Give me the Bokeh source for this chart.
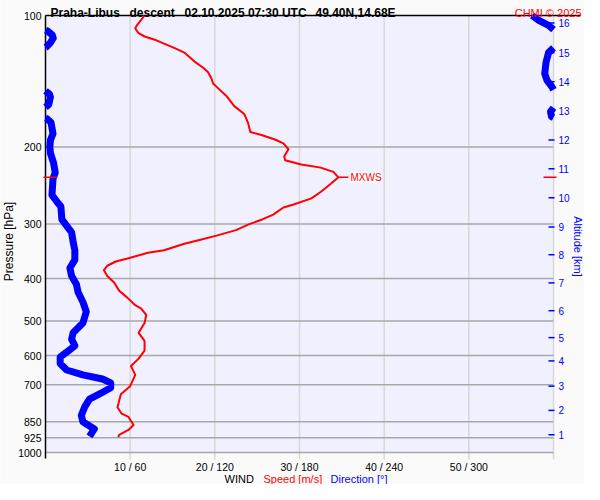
import numpy as np
from bokeh.plotting import figure
from bokeh.models import Range1d
from bokeh.core.properties import value
from bokeh.embed import file_html
from bokeh.resources import INLINE

# ---------------- data ----------------
title_parts = ["Praha-Libus", "descent", "02.10.2025 07:30 UTC", "49.40N,14.68E"]
credit = "CHMI \u00a9 2025"

pressure_ticks = [100, 200, 300, 400, 500, 600, 700, 850, 925, 1000]
pressure_labels = ["100", "200", "300", "400", "500", "600", "700", "850", "925", "1000"]
grid_pressures = [200, 300, 400, 500, 600, 700, 850, 925, 1000]

wind_ticks = [10, 20, 30, 40, 50, 60]
dir_ticks = [60, 120, 180, 240, 300, 360]
wind_labels = ["10 / 60", "20 / 120", "30 / 180", "40 / 240", "50 / 300", ""]

alt_km = ["1", "2", "3", "4", "5", "6", "7", "8", "9", "10", "11", "12", "13", "14", "15", "16"]
alt_p = [910.8, 801.2, 705.0, 617.2, 545.9, 473.7, 409.1, 352.7, 304.6, 261.3,
         224.1, 192.8, 165.4, 141.8, 121.7, 104.0]

speed_p = [100, 105.3, 107.1, 109.8, 111.7, 113.6, 116.0, 118.6, 121.6, 127.0,
           132.0, 134.8, 139.4, 143.1, 146.8, 153.1, 161.2, 168.3, 175.6, 184.8,
           187.9, 192.2, 196.2, 202.3, 210.0, 214.4, 219.2, 222.9, 227.9, 234.6,
           242.7, 253.4, 262.1, 270.3, 275.0, 285.5, 292.9, 300.5, 309.8, 319.0,
           326.1, 332.8, 344.4, 349.0, 359.4, 365.5, 373.8, 382.7, 394.6, 408.4,
           426.2, 441.0, 460.2, 468.3, 484.4, 505.7, 532.2, 555.3, 584.4, 609.7,
           634.2, 664.1, 705.0, 735.6, 787.6, 815.1, 829.0, 865.4, 887.8, 910.8, 923.0]
speed_ms = [11.7, 10.8, 10.6, 11.0, 11.7, 12.9, 14.0, 15.2, 16.4, 17.5,
            18.7, 19.2, 19.6, 19.8, 20.4, 21.4, 22.3, 23.5, 23.9, 24.2,
            25.6, 27.1, 28.1, 28.7, 28.2, 28.3, 30.2, 32.5, 34.0, 34.6,
            33.7, 32.5, 31.4, 29.4, 28.1, 26.9, 25.6, 24.0, 22.5, 20.2,
            18.3, 16.4, 14.0, 12.1, 9.8, 8.3, 7.3, 6.9, 7.3, 8.1,
            8.7, 9.6, 10.6, 11.3, 11.9, 11.7, 11.0, 11.7, 11.7, 11.0,
            10.1, 10.6, 10.0, 8.9, 8.5, 9.0, 9.8, 10.4, 9.8, 8.7, 8.6]

dir_p = [100.0, 102.6, 105.3, 107.7, 108.0, 108.5, 110.8, 112.7, 115.4, 118.0,
         118.4, 118.6, 121.6, 128.0, 135.9, 140.7, 145.5, 147.9, 148.7, 151.4,
         153.7, 159.9, 162.2, 162.6, 166.0, 170.3, 171.2, 171.6, 172.0, 175.6,
         186.4, 192.8, 199.5, 206.5, 217.4, 228.7, 236.6, 257.7, 266.7, 273.6,
         292.9, 303.0, 313.5, 330.0, 344.4, 362.5, 378.2, 394.6, 412.0, 429.9,
         452.4, 476.3, 505.7, 532.2, 550.6, 569.6, 589.4, 604.6, 625.4, 647.4,
         664.1, 678.9, 693.0, 710.9, 731.8, 754.7, 787.6, 822.2, 850.6, 883.2, 918.4]
dir_deg = [344.8, 349.6, 356.5, 360.0, 0.0, 1.4, 4.8, 5.5, 3.5, 0.7,
           0.0, 360.0, 356.5, 354.7, 353.8, 355.4, 358.8, 360.0, 0.0, 2.8,
           3.5, 2.3, 0.0, 360.0, 357.9, 358.6, 360.0, 0.0, 0.7, 3.9,
           5.3, 3.5, 3.1, 3.5, 5.7, 6.9, 5.3, 4.6, 8.1, 10.9,
           11.6, 15.0, 18.5, 19.6, 20.8, 20.8, 17.3, 18.5, 21.9, 23.1,
           26.5, 28.9, 26.5, 19.6, 18.5, 20.8, 15.0, 10.4, 10.4, 15.0,
           26.5, 40.4, 46.2, 46.2, 39.3, 31.2, 27.7, 25.4, 26.5, 34.6, 31.2]

# ---------------- layout (pixels of the canvas) ----------------
FONT = value("Liberation Sans")
W, H = 584, 484
PL, PR, PT, PB = 45, 553, 15, 452          # plot-area edges
XMAX = wind_ticks[-1]
P_TOP, P_BOT = pressure_ticks[0], pressure_ticks[-1]
DEC = np.log10(P_BOT / P_TOP)
RATIO = dir_ticks[0] / wind_ticks[0]


def X(px):
    return (px - PL) / (PR - PL) * XMAX


def Y(py):
    return P_TOP * 10 ** ((py - PT) / (PB - PT) * DEC)


p = figure(width=W, height=H, x_range=Range1d(X(0), X(W)), y_range=Range1d(Y(H), Y(0)),
           y_axis_type="log", x_axis_location=None, y_axis_location=None,
           output_backend="svg", toolbar_location=None, min_border=0)
p.extra_x_ranges = {"dir": Range1d(X(0) * RATIO, X(W) * RATIO)}
p.min_border_left = p.min_border_right = p.min_border_top = p.min_border_bottom = 0
p.xgrid.visible = False
p.ygrid.visible = False
p.outline_line_color = None
p.background_fill_color = "#fafafa"
p.border_fill_color = "#fafafa"

# plot area
p.quad(left=[0], right=[XMAX], top=[P_TOP], bottom=[P_BOT], fill_color="#f0f0ff", line_color=None)

# grid lines
p.segment(x0=wind_ticks, x1=wind_ticks, y0=[P_TOP] * len(wind_ticks), y1=[Y(PB + 7)] * len(wind_ticks),
          line_color="#d8d8d8", line_width=1.5)
p.segment(x0=[0] * len(grid_pressures), x1=[XMAX] * len(grid_pressures), y0=grid_pressures, y1=grid_pressures,
          line_color="#a8a8a8", line_width=1.5)

# frame lines
p.segment(x0=[0], x1=[0], y0=[P_TOP], y1=[Y(PB + 6)], line_color="black", line_width=1.5)
p.segment(x0=[0], x1=[X(580)], y0=[P_TOP], y1=[P_TOP], line_color="black", line_width=1.5)

# right altitude ticks
p.segment(x0=[X(PR - 5)] * len(alt_p), x1=[X(PR + 1)] * len(alt_p), y0=alt_p, y1=alt_p,
          line_color="blue", line_width=1.5)

# direction line, broken where it wraps round 0/360
dx, dy = [dir_deg[0]], [dir_p[0]]
for i in range(1, len(dir_deg)):
    if abs(dir_deg[i] - dir_deg[i - 1]) > 180:
        dx.append(np.nan)
        dy.append(np.nan)
    dx.append(dir_deg[i])
    dy.append(dir_p[i])
p.line(dx, dy, x_range_name="dir", line_color="blue", line_width=7, line_join="round", line_cap="butt")

# speed line
p.line(speed_ms, speed_p, line_color="red", line_width=2, line_join="round")

# max wind marker
imax = int(np.argmax(speed_ms))
mx, mp = speed_ms[imax], speed_p[imax]
px_ms = (PR - PL) / XMAX
p.segment(x0=[X(43), X(PR - 10), mx], x1=[X(56), X(PR + 3), mx + 10 / px_ms],
          y0=[mp] * 3, y1=[mp] * 3, line_color="red", line_width=1.5)
p.text(x=[mx + 12 / px_ms], y=[mp], text=["MXWS"], text_font=FONT, text_font_size="10px",
       text_color="red", text_baseline="middle", text_align="left",
       background_fill_color="white")

# tick labels
p.text(x=[X(41)] * len(pressure_ticks), y=pressure_ticks, text=pressure_labels, text_font=FONT,
       text_font_size="10.5px", text_color="black", text_align="right", text_baseline="middle")
xt = [(t, l) for t, l in zip(wind_ticks, wind_labels) if l]
p.text(x=[t for t, _ in xt], y=[Y(PB + 14)] * len(xt), text=[l for _, l in xt], text_font=FONT,
       text_font_size="10.5px", text_color="black", text_align="center", text_baseline="middle")
p.text(x=[X(PR + 5)] * len(alt_p), y=alt_p, text=alt_km, text_font=FONT,
       text_font_size="10px", text_color="blue", text_align="left", text_baseline="middle")

# title row
title_x = [50, 129, 184, 315]
p.text(x=[X(v) for v in title_x], y=[Y(12)] * len(title_parts), text=title_parts, text_font=FONT,
       text_font_size="12px", text_font_style="bold", text_color="black",
       text_align="left", text_baseline="alphabetic")
p.text(x=[X(581)], y=[Y(12)], text=[credit], text_font=FONT, text_font_size="11px",
       text_color="red", text_align="right", text_baseline="alphabetic")

# axis titles
p.text(x=[X(8)], y=[Y(241)], text=["Pressure [hPa]"], text_font=FONT, text_font_size="12px",
       text_color="black", angle=np.pi / 2, text_align="center", text_baseline="middle")
p.text(x=[X(577)], y=[Y(246)], text=["Altitude [km]"], text_font=FONT, text_font_size="11px",
       text_color="blue", angle=-np.pi / 2, text_align="center", text_baseline="middle")
p.text(x=[X(224), X(263), X(330)], y=[Y(PB + 26)] * 3, text=["WIND", "Speed [m/s]", "Direction [\u00b0]"],
       text_font=FONT, text_font_size="11px", text_color=["black", "red", "blue"],
       text_align="left", text_baseline="middle")

open("out.html", "w").write(file_html(p, INLINE))
